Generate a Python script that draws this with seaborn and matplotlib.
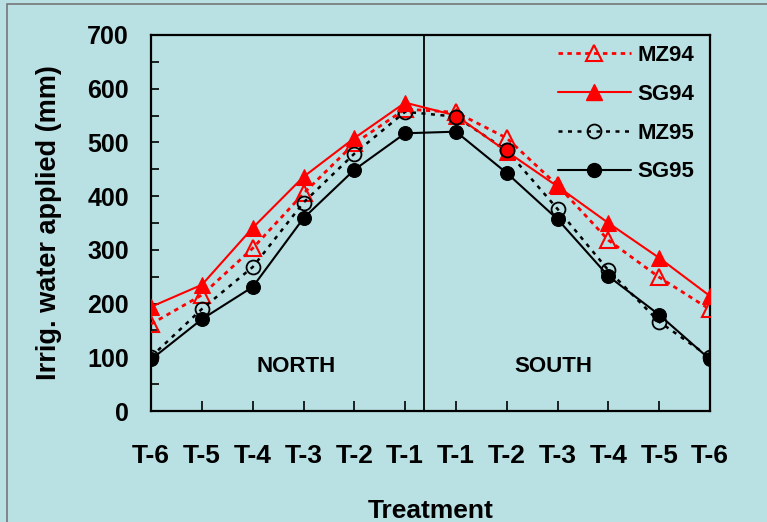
import matplotlib
matplotlib.use("Agg")
import matplotlib.pyplot as plt
import seaborn as sns
import numpy as np
import pandas as pd
from matplotlib.patches import Rectangle
from matplotlib.lines import Line2D

treatments = ["T-6", "T-5", "T-4", "T-3", "T-2", "T-1",
              "T-1", "T-2", "T-3", "T-4", "T-5", "T-6"]
mz94 = [162, 216, 303, 405, 498, 562, 556, 508, 420, 318, 249, 189]
sg94 = [194, 235, 341, 436, 508, 574, 550, 483, 418, 350, 285, 214]
mz95 = [101, 190, 268, 388, 479, 557, 548, 485, 376, 262, 166, 100]
sg95 = [96, 171, 231, 359, 449, 517, 520, 443, 357, 251, 179, 96]
regions = ["NORTH", "SOUTH"]

bg = "#b9e0e3"
sns.set_style("white")
plt.rcParams["font.family"] = ["Liberation Sans", "DejaVu Sans"]
plt.rcParams["font.weight"] = "bold"
plt.rcParams["text.color"] = "black"
plt.rcParams["axes.labelcolor"] = "black"
plt.rcParams["xtick.color"] = "black"
plt.rcParams["ytick.color"] = "black"

fig = plt.figure(figsize=(7.67, 5.22), dpi=100, facecolor=bg)
ax = fig.add_axes([0.197, 0.2126, 0.7287, 0.7204])
ax.set_facecolor(bg)

xs = np.arange(len(treatments))
df = pd.DataFrame({"x": xs, "MZ94": mz94, "SG94": sg94, "MZ95": mz95, "SG95": sg95})

sns.lineplot(data=df, x="x", y="MZ94", ax=ax, color="red", lw=2.0,
             dashes=False, linestyle=(0, (1.6, 1.6)), marker="^", markersize=11,
             markerfacecolor="none", markeredgecolor="red", markeredgewidth=1.5,
             zorder=3)
sns.lineplot(data=df, x="x", y="SG94", ax=ax, color="red", lw=1.5,
             marker="^", markersize=12, markerfacecolor="red",
             markeredgecolor="red", zorder=4)
sns.lineplot(data=df, x="x", y="MZ95", ax=ax, color="black", lw=1.8,
             linestyle=(0, (1.6, 2.2)), marker="o", markersize=10,
             markerfacecolor="none", markeredgecolor="black", markeredgewidth=1.3,
             zorder=3)
sns.lineplot(data=df, x="x", y="SG95", ax=ax, color="black", lw=1.5,
             marker="o", markersize=10, markerfacecolor="black",
             markeredgecolor="black", zorder=4)
# red-filled MZ95 markers at the first two south points, as in the original
sub = df.iloc[[6, 7]]
ax.plot(sub["x"], sub["MZ95"], ls="none", marker="o", markersize=10,
        markerfacecolor="red", markeredgecolor="black", markeredgewidth=1.3, zorder=5)

ax.set_xlim(0, 11)
ax.set_ylim(0, 700)
ax.axvline(5.37, ymin=0, ymax=1, color="black", lw=1.3, zorder=2)

ax.set_xticks(xs)
ax.set_xticklabels(treatments, fontsize=19, fontweight="bold")
ax.set_yticks(np.arange(0, 701, 100))
ax.set_yticks(np.arange(50, 700, 100), minor=True)
ax.tick_params(axis="y", which="both", direction="in", length=6, width=1.2,
               labelsize=18, pad=16, left=True, colors="black")
ax.tick_params(axis="x", which="both", direction="in", length=7, width=1.2,
               pad=24, bottom=True, colors="black")
for lab in ax.get_yticklabels():
    lab.set_fontweight("bold")

for s in ax.spines.values():
    s.set_color("black")
    s.set_linewidth(1.6)

ax.set_xlabel("Treatment", fontsize=19, fontweight="bold", labelpad=22, color="black")
ax.set_ylabel("Irrig. water applied (mm)", fontsize=19.5, fontweight="bold",
              labelpad=18, color="black")

ax.text(2.85, 82, regions[0], fontsize=16, fontweight="bold", ha="center", va="center")
ax.text(7.91, 82, regions[1], fontsize=16, fontweight="bold", ha="center", va="center")

handles = [
    Line2D([], [], color="red", lw=2.0, linestyle=(0, (1.6, 1.6)), marker="^",
           markersize=11, markerfacecolor="none", markeredgecolor="red", markeredgewidth=1.5),
    Line2D([], [], color="red", lw=1.5, marker="^", markersize=12, markerfacecolor="red"),
    Line2D([], [], color="black", lw=1.8, linestyle=(0, (1.6, 2.2)), marker="o",
           markersize=10, markerfacecolor="none", markeredgecolor="black", markeredgewidth=1.3),
    Line2D([], [], color="black", lw=1.5, marker="o", markersize=10, markerfacecolor="black"),
]
leg = ax.legend(handles, ["MZ94", "SG94", "MZ95", "SG95"], loc="upper right",
                bbox_to_anchor=(0.99, 1.0), frameon=False, fontsize=16,
                handlelength=3.3, handletextpad=0.3, labelspacing=0.8,
                borderaxespad=0.05)
for t in leg.get_texts():
    t.set_fontweight("bold")
    t.set_color("black")

fig.patches.append(Rectangle((7 / 767, -0.1), 1.2, (522 - 4) / 522 + 0.1,
                             transform=fig.transFigure, fill=False,
                             edgecolor="#777777", lw=1.2))

fig.savefig("out.png", dpi=100, facecolor=bg)
